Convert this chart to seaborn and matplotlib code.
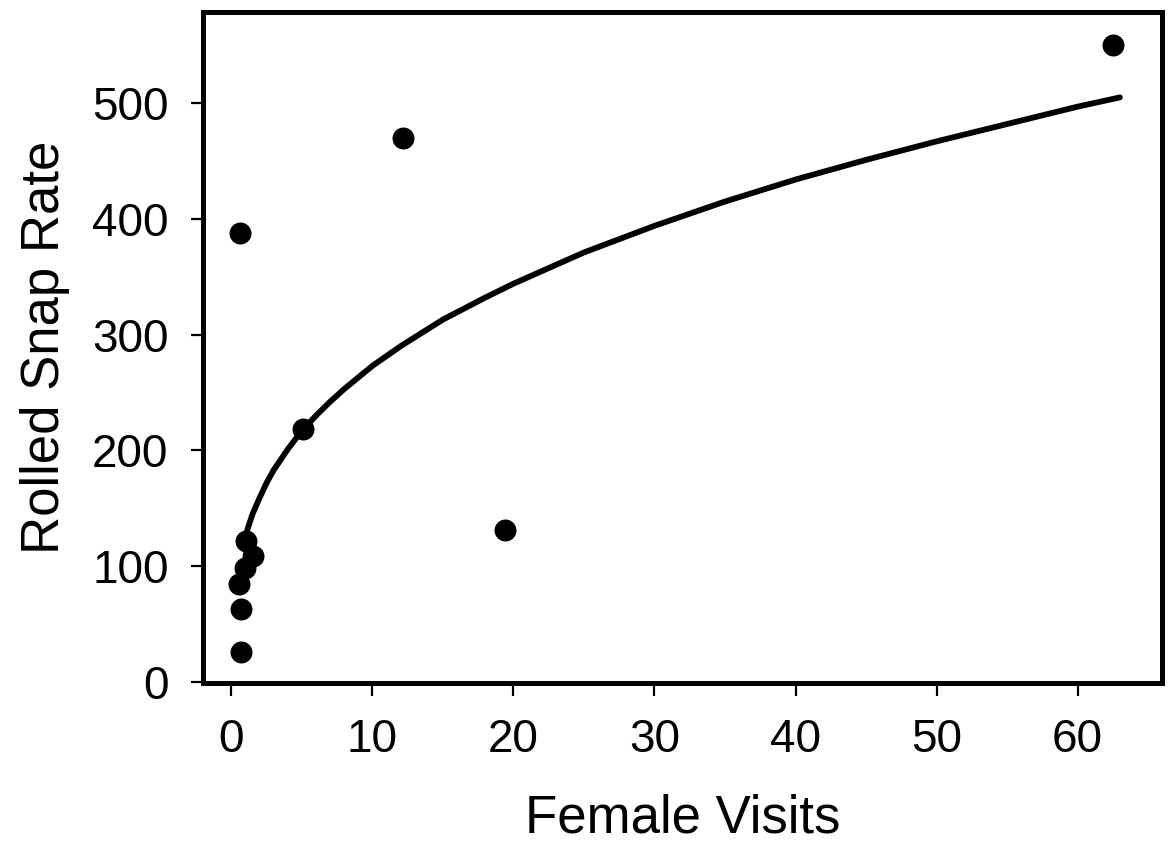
import matplotlib
matplotlib.use("Agg")
import matplotlib.pyplot as plt
import seaborn as sns
import pandas as pd

# observed points
female_visits = [62.5, 12.2, 0.64, 5.1, 19.4, 1.0, 1.5, 0.95, 0.57, 0.66, 0.7]
snap_rate = [550, 470, 388, 218, 131, 122, 109, 98, 84, 63, 26]

# fitted curve
curve_x = [0.8, 1, 1.2, 1.5, 2, 2.5, 3, 4, 5, 6, 7, 8, 10, 12, 15, 18, 20,
           25, 30, 35, 40, 45, 50, 55, 60, 63]
curve_y = [117, 126, 134, 145, 159, 172, 183, 201, 217, 230, 242, 253, 273, 290, 313, 332, 344,
           371, 394, 415, 434, 451, 467, 482, 497, 505]

points = pd.DataFrame({"Female Visits": female_visits, "Rolled Snap Rate": snap_rate})
curve = pd.DataFrame({"x": curve_x, "y": curve_y})

sns.set_style("ticks")
plt.rcParams['font.family'] = ['Liberation Sans', 'DejaVu Sans']

fig = plt.figure(figsize=(11.68, 8.43), dpi=100)
ax = fig.add_axes([0.174, 0.19, 0.821, 0.796])

sns.lineplot(data=curve, x="x", y="y", color="black", linewidth=4.2, ax=ax,
             estimator=None, sort=True)
sns.scatterplot(data=points, x="Female Visits", y="Rolled Snap Rate", color="black",
                s=250, edgecolor="black", linewidth=0, ax=ax, zorder=3)

ax.set_xlim(-2, 66)
ax.set_ylim(-1, 579)
ax.set_xticks([0, 10, 20, 30, 40, 50, 60])
ax.set_yticks([0, 100, 200, 300, 400, 500])
ax.tick_params(labelsize=33, length=9, width=1.6, pad=16, colors="black")
ax.set_xlabel("Female Visits", fontsize=38, labelpad=23, color="black")
ax.set_ylabel("Rolled Snap Rate", fontsize=38, labelpad=16, color="black")
for sp in ax.spines.values():
    sp.set_linewidth(3.6)
    sp.set_color("black")
    sp.set_visible(True)

fig.savefig("out.png", dpi=100)
